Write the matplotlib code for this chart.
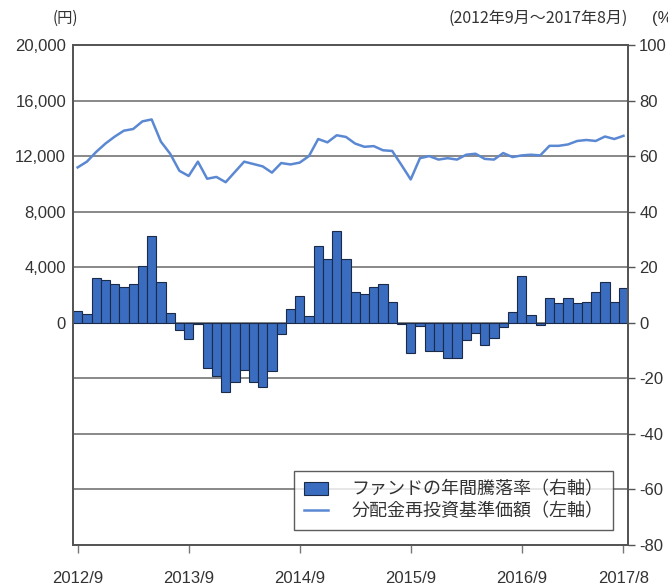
import numpy as np
import matplotlib
matplotlib.use("Agg")
import matplotlib.pyplot as plt

plt.rcParams['font.family'] = ['Liberation Sans', 'Noto Sans CJK JP', 'DejaVu Sans']

# monthly data, 2012/9 .. 2017/8
tick_labels = ["2012/9", "2013/9", "2014/9", "2015/9", "2016/9", "2017/8"]
tick_index = [0, 12, 24, 36, 48, 59]

# fund annual return (%), right axis
annual_return = [
    4.4, 3.2, 16.1, 15.5, 14.0, 13.0, 13.9, 20.6, 31.2, 14.6, 3.6, -2.6,
    -6.0, -0.3, -16.4, -19.3, -25.0, -21.3, -17.1, -21.3, -23.2, -17.3, -4.2, 5.0,
    9.6, 2.3, 27.7, 22.8, 33.0, 23.1, 11.2, 10.3, 13.0, 14.0, 7.4, -0.5,
    -11.0, -1.2, -10.0, -10.0, -12.7, -12.7, -6.2, -3.7, -8.0, -5.6, -1.5, 4.0,
    16.7, 2.8, -0.8, 9.0, 7.0, 9.0, 7.0, 7.4, 11.1, 14.8, 7.4, 12.6,
]

# NAV incl. reinvested dividends (yen), left axis
nav = [
    11185, 11600, 12300, 12900, 13400, 13830, 13950, 14500, 14640, 13040, 12170, 10940,
    10570, 11600, 10370, 10500, 10120, 10860, 11600, 11430, 11260, 10810, 11500, 11400,
    11530, 12000, 13230, 12990, 13500, 13380, 12900, 12670, 12720, 12420, 12370, 11360,
    10320, 11850, 12000, 11750, 11850, 11750, 12100, 12170, 11800, 11750, 12220, 11930,
    12050, 12100, 12050, 12740, 12740, 12840, 13090, 13160, 13090, 13410, 13230, 13460,
]

TXT = "#333333"
x = np.arange(len(annual_return))

fig = plt.figure(figsize=(6.68, 5.88), dpi=100)
ax = fig.add_axes([0.1093, 0.0731, 0.831, 0.8504])

# horizontal grid (right axis units)
for g in [-60, -40, -20, 0, 20, 40, 60, 80]:
    ax.axhline(g, color="#7f7f7f", lw=1.3, zorder=1)

bars = ax.bar(x, annual_return, width=1.0, color="#3a6cbf", edgecolor="#1b2a48",
              linewidth=0.8, zorder=2, label="ファンドの年間騰落率（右軸）")
ax.set_ylim(-80, 100)
ax.set_xlim(-0.5, len(x) - 0.5)

ax2 = ax.twinx()
line, = ax2.plot(x, nav, color="#5b88d2", lw=1.8, zorder=3,
                 label="分配金再投資基準価額（左軸）")
ax2.set_ylim(-16000, 20000)

# right axis: fund return
ax.yaxis.tick_right()
ax.set_yticks(np.arange(-80, 101, 20))
ax.set_yticklabels([str(v) for v in np.arange(-80, 101, 20)])
ax.tick_params(axis="y", direction="out", length=5, width=1, color="#555555",
               labelsize=12, labelcolor=TXT, pad=3)
ax.set_xticks(tick_index)
ax.set_xticklabels(tick_labels)
ax.tick_params(axis="x", direction="out", length=6, width=1, color="#777777",
               labelsize=12, labelcolor=TXT, pad=13)

# left axis: NAV
ax2.yaxis.tick_left()
ax2.set_yticks(np.arange(0, 20001, 4000))
ax2.set_yticklabels([f"{v:,}" for v in np.arange(0, 20001, 4000)])
ax2.tick_params(axis="y", length=0, labelsize=12, labelcolor=TXT, pad=5)

for a in (ax, ax2):
    for s in a.spines.values():
        s.set_color("#555555")
        s.set_linewidth(1.3)

leg = ax2.legend(handles=[bars, line], loc="lower right",
                 bbox_to_anchor=(0.973, 0.03), frameon=True, fancybox=False,
                 edgecolor="#333333", handlelength=1.3,
                 handleheight=0.75, borderpad=0.55, labelspacing=0.2,
                 handletextpad=1.3, borderaxespad=0,
                 prop={'family': ['Noto Sans CJK JP', 'DejaVu Sans'], 'size': 13})
leg.get_frame().set_linewidth(1.0)
for t in leg.get_texts():
    t.set_color(TXT)
leg.set_zorder(10)

fig.text(0.098, 0.969, "(円)", ha="center", va="center", fontsize=11, color=TXT,
         family=['Noto Sans CJK JP', 'DejaVu Sans'])
fig.text(0.94, 0.969, "(2012年9月～2017年8月)", ha="right", va="center", fontsize=11.5,
         color=TXT, family=['Noto Sans CJK JP', 'DejaVu Sans'])
fig.text(0.976, 0.969, "(%)", ha="left", va="center", fontsize=12, color=TXT)

fig.savefig("out.png", dpi=100)
